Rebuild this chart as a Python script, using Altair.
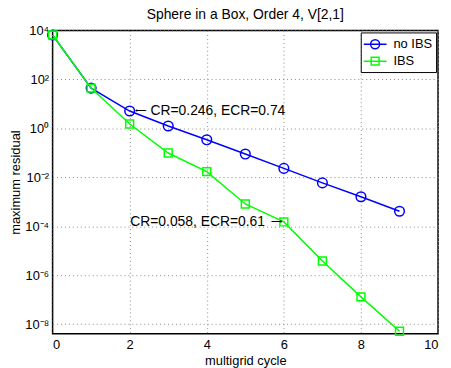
import altair as alt
import pandas as pd

cycles = [0, 1, 2, 3, 4, 5, 6, 7, 8, 9]
no_ibs = [6.5e3, 44, 5.1, 1.25, 0.34, 0.089, 0.023, 0.0059, 0.0016, 4.1e-4]
ibs = [6.5e3, 44, 1.5, 0.098, 0.017, 8.1e-4, 1.5e-4, 3.8e-6, 1.3e-7, 5.1e-9]
series_names = ["no IBS", "IBS"]
series_colors = ["#0000FF", "#00FF00"]
y_ticks = [1e-8, 1e-6, 1e-4, 1e-2, 1, 1e2, 1e4]
x_ticks = [0, 2, 4, 6, 8, 10]

ann1 = {"x": 2, "y": 5.1, "text": "CR=0.246, ECR=0.74", "arrow": "\u27f5"}
ann2 = {"x": 6, "y": 1.5e-4, "text": "CR=0.058, ECR=0.61", "arrow": "\u27f6"}

df = pd.DataFrame({
    "cycle": cycles * 2,
    "residual": no_ibs + ibs,
    "series": [series_names[0]] * len(cycles) + [series_names[1]] * len(cycles),
})

FONT = "Liberation Sans"

x_enc = alt.X("cycle:Q",
              scale=alt.Scale(domain=[0, 10], nice=False, zero=False),
              axis=alt.Axis(values=x_ticks, title="multigrid cycle", format="d",
                            grid=True, gridDash=[1, 3], gridColor="#888888",
                            ticks=False, labelPadding=5, titlePadding=3,
                            domain=False))
label_expr = ("datum.value >= 5e3 ? '10\u2074' : datum.value >= 50 ? '10\u00b2' : "
              "datum.value >= 0.5 ? '10\u2070' : datum.value >= 0.005 ? '10\u207b\u00b2' : "
              "datum.value >= 5e-5 ? '10\u207b\u2074' : datum.value >= 5e-7 ? '10\u207b\u2076' : '10\u207b\u2078'")
y_enc = alt.Y("residual:Q",
              scale=alt.Scale(type="log", domain=[4.07e-9, 1e4], nice=False),
              axis=alt.Axis(values=y_ticks, title="maximum residual",
                            labelExpr=label_expr,
                            grid=True, gridDash=[1, 3], gridColor="#888888",
                            ticks=False, labelPadding=4, titlePadding=2,
                            domain=False))

base = alt.Chart(df)

line_blue = base.transform_filter(alt.datum.series == "no IBS").mark_line(
    color=series_colors[0], strokeWidth=1.5).encode(x=x_enc, y=y_enc)
pts_blue = base.transform_filter(alt.datum.series == "no IBS").mark_point(
    shape="circle", size=95, strokeWidth=1.5, color=series_colors[0], filled=False,
    opacity=1).encode(x="cycle:Q", y="residual:Q")
line_green = base.transform_filter(alt.datum.series == "IBS").mark_line(
    color=series_colors[1], strokeWidth=1.5).encode(x="cycle:Q", y="residual:Q")
pts_green = base.transform_filter(alt.datum.series == "IBS").mark_point(
    shape="square", size=64, strokeWidth=1.5, color=series_colors[1], filled=False,
    opacity=1).encode(x="cycle:Q", y="residual:Q")

circle_path = "M-1.53,0L1.53,0M0.61,0A0.61,0.61,0,1,1,-0.61,0A0.61,0.61,0,1,1,0.61,0"
square_path = "M-1.53,0L1.53,0M-0.53,-0.53L0.53,-0.53L0.53,0.53L-0.53,0.53Z"

legend_layer = base.transform_filter("false").mark_point(filled=False, opacity=1).encode(
    x="cycle:Q", y="residual:Q",
    color=alt.Color("series:N",
                    scale=alt.Scale(domain=series_names, range=series_colors),
                    legend=alt.Legend(title=None, orient="top-right", offset=2,
                                      strokeColor="black", fillColor="white",
                                      padding=3.5, symbolSize=225, symbolStrokeWidth=1.5,
                                      symbolOffset=2.5,
                                      labelFontSize=13, labelFont=FONT,
                                      labelOffset=10, rowPadding=0,
                                      labelColor="black")),
    shape=alt.Shape("series:N",
                    scale=alt.Scale(domain=series_names, range=[circle_path, square_path]),
                    legend=None),
)

ann_df1 = pd.DataFrame([ann1])
ann_df2 = pd.DataFrame([ann2])
text1 = alt.Chart(ann_df1).mark_text(align="left", baseline="middle", dx=21,
                                     fontSize=14, font=FONT, color="black").encode(
    x="x:Q", y="y:Q", text="text:N")
arrow1 = alt.Chart(ann_df1).mark_text(align="left", baseline="middle", dx=5,
                                      fontSize=8, color="black").encode(
    x="x:Q", y="y:Q", text="arrow:N")
text2 = alt.Chart(ann_df2).mark_text(align="right", baseline="middle", dx=-19,
                                     fontSize=14, font=FONT, color="black").encode(
    x="x:Q", y="y:Q", text="text:N")
arrow2 = alt.Chart(ann_df2).mark_text(align="right", baseline="middle", dx=-2,
                                      fontSize=8, color="black").encode(
    x="x:Q", y="y:Q", text="arrow:N")

chart = alt.layer(line_blue, pts_blue, line_green, pts_green, legend_layer,
                  text1, arrow1, text2, arrow2).properties(
    width=389, height=306,
    background="white",
    title=alt.Title("Sphere in a Box, Order 4, V[2,1]", fontSize=14, font=FONT,
                    fontWeight="normal", color="black", offset=7, frame="group", dy=4),
    autosize=alt.AutoSizeParams(type="none"),
    padding={"left": 45, "top": 21, "right": 5, "bottom": 33},
).configure_view(
    stroke="black", strokeWidth=1.5
).configure_axis(
    labelFont=FONT, titleFont=FONT, labelFontSize=13, titleFontSize=13,
    labelColor="black", titleColor="black", titleFontWeight="normal",
)

chart.save("out.html", embed_options={"renderer": "svg", "actions": False})
